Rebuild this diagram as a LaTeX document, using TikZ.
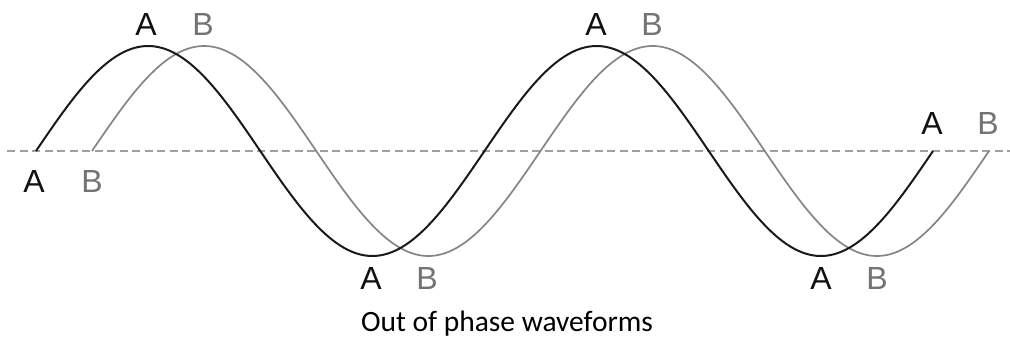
\documentclass[tikz,border=0pt]{standalone}
\usepackage{fontspec}
\setmainfont{Liberation Sans}
\newfontfamily\capfont{Carlito}
\definecolor{waveA}{HTML}{1A1A1A}
\definecolor{waveB}{HTML}{858585}
\definecolor{labA}{HTML}{111111}
\definecolor{labB}{HTML}{737373}
\definecolor{axisgray}{HTML}{A0A0A0}
\begin{document}
\begin{tikzpicture}[x=1pt,y=-1pt,
  curveA/.style={draw=waveA,line width=2pt},
  curveB/.style={draw=waveB,line width=1.7pt},
  axisline/.style={draw=axisgray,line width=1.5pt,dash pattern=on 8pt off 4.5pt},
  labelA/.style={inner sep=0pt,text=labA,font=\fontsize{32}{32}\selectfont},
  labelB/.style={inner sep=0pt,text=labB,font=\fontsize{32}{32}\selectfont},
  caption/.style={inner sep=0pt,anchor=base,font=\capfont\fontsize{29.5}{31}\selectfont}]
\useasboundingbox (0,0) rectangle (1010,339);
\coordinate (axL) at (7,151);
\coordinate (axR) at (1010,151);
\draw[axisline] (axL) -- (axR);
\draw[curveB] plot[domain=92:989,samples=300,smooth] (\x,{151-105*sin(0.802676*(\x-92))});
\draw[curveA] plot[domain=36:933,samples=300,smooth] (\x,{151-105*sin(0.802676*(\x-36))});
\node[labelA] (a1) at (34,181) {A};
\node[labelB] (b1) at (92,181) {B};
\node[labelA] (a2) at (146,24) {A};
\node[labelB] (b2) at (203,24) {B};
\node[labelA] (a3) at (371,278) {A};
\node[labelB] (b3) at (427,278) {B};
\node[labelA] (a4) at (596,24) {A};
\node[labelB] (b4) at (652,24) {B};
\node[labelA] (a5) at (821,278) {A};
\node[labelB] (b5) at (877,278) {B};
\node[labelA] (a6) at (932,123) {A};
\node[labelB] (b6) at (988,123) {B};
\node[caption] (cap) at (507,331) {Out of phase waveforms};
\end{tikzpicture}
\end{document}
